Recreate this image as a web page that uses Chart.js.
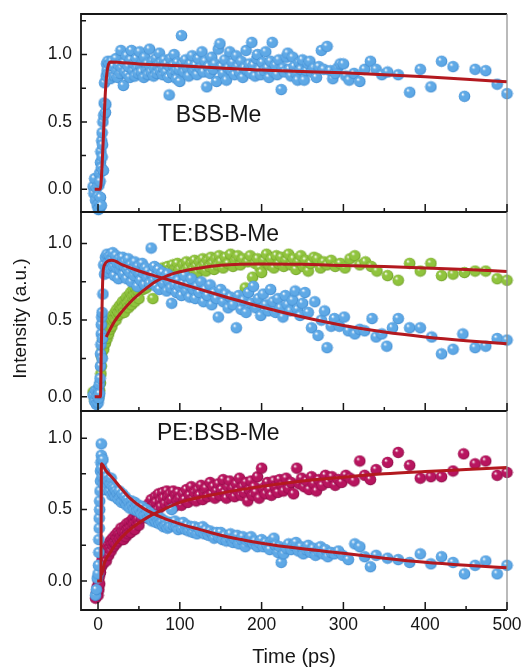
<!DOCTYPE html>
<html lang="en">
<head>
  <meta charset="UTF-8">
  <title>Intensity vs time</title>
  <script src="https://cdn.jsdelivr.net/npm/chart.js"></script>
  <style>
    body {
      margin: 0;
      background: #ffffff;
    }
    .stack {
      position: relative;
      width: 522px;
      height: 669px;
    }
    .stack canvas {
      position: absolute;
      left: 0;
      top: 0;
    }
  </style>
</head>
<body>
  <div class="stack">
    <canvas id="panelBsb" width="522" height="669"></canvas>
    <canvas id="panelTe" width="522" height="669"></canvas>
    <canvas id="panelPe" width="522" height="669"></canvas>
  </div>

  <script>
    // axis ticks
    const timeTicks = [0, 100, 200, 300, 400, 500];
    const timeMinorTicks = [50, 150, 250, 350, 450];
    const intensityTicks = [0, 0.5, 1.0];
    const intensityMinorTicks = [0.25, 0.75, 1.25];

    // BSB-Me, [time ps, intensity]
    const bsbPoints = [
      [-6,0.02],[-5,-0.03],[-4,0.08],[-3,-0.08],[-2,0.01],[-1,-0.12],[0,-0.05],[0.5,-0.15],[1,0.03],[1.5,-0.1],
      [2,-0.14],[2,0.12],[2.5,0.06],[3,-0.06],[3,0.2],[3.5,0.28],[4,-0.12],[4,0.16],[4.5,0.36],[5,0.24],
      [5,0.42],[5.5,0.33],[6,0.5],[6.5,0.14],[7,0.55],[7.5,0.64],[8,0.79],[9,0.57],[9.5,0.63],[10,0.84],
      [10.5,0.93],[11,0.88],[12,0.95],[13,0.86],[14,0.93],[15,0.82],[16,0.9],[17,0.95],[18,0.86],[19,0.91],
      [20,0.84],[22,0.97],[23,0.88],[24,0.83],[25,0.92],[27,0.86],[28,1.03],[29,0.9],[31,0.77],[32,0.94],
      [33,0.87],[35,0.99],[36,0.85],[37,0.91],[39,0.83],[40,0.96],[41,1.03],[43,0.88],[44,0.93],[45,0.84],
      [47,0.97],[48,0.9],[49,0.86],[51,1.02],[52,0.92],[53,0.87],[55,0.95],[56,0.83],[57,0.98],[59,0.89],
      [60,0.93],[61,0.85],[63,1.04],[64,0.91],[65,0.87],[67,0.95],[68,0.84],[69,0.9],[71,0.97],[72,0.86],
      [73,0.92],[75,1.01],[76,0.88],[77,0.94],[79,0.85],[80,0.9],[81,0.96],[83,0.87],[84,0.93],[86,0.83],
      [87,0.7],[88,0.91],[89,0.97],[91,0.86],[92,0.92],[93,1.0],[95,0.88],[96,0.82],[97,0.94],[99,0.89],
      [100,0.8],[102,1.14],[103,0.93],[105,0.87],[107,0.96],[109,0.9],[111,0.84],[113,0.93],[115,0.99],[117,0.88],
      [119,0.92],[121,0.85],[123,0.97],[125,0.9],[127,1.02],[129,0.87],[131,0.95],[133,0.76],[135,0.91],[137,0.86],
      [139,0.98],[141,0.89],[143,0.93],[145,0.8],[147,1.04],[149,1.08],[151,0.91],[153,0.86],[155,0.96],[157,0.81],
      [159,0.9],[161,1.02],[163,0.88],[165,0.94],[167,0.85],[169,0.99],[171,0.91],[173,0.87],[175,0.95],[177,0.83],
      [179,0.9],[181,1.03],[183,0.88],[185,0.93],[187,0.86],[188,1.09],[190,0.92],[192,0.84],[194,0.97],[195,1.0],
      [197,0.89],[199,0.85],[201,0.94],[203,0.88],[205,1.02],[207,0.9],[209,0.83],[211,0.95],[213,1.09],[215,0.87],
      [217,0.92],[219,0.85],[221,0.96],[224,0.74],[226,0.9],[228,0.87],[230,0.98],[232,1.01],[234,0.89],[236,0.84],
      [238,0.98],[240,0.91],[242,0.86],[244,0.81],[246,0.94],[248,0.89],[250,0.96],[252,0.81],[255,0.88],[257,0.93],
      [259,0.95],[261,0.87],[264,0.9],[267,0.83],[270,0.91],[273,1.03],[276,0.89],[280,1.06],[284,0.88],[287,0.82],
      [290,0.86],[293,0.9],[296,0.93],[300,0.93],[303,0.84],[307,0.81],[313,0.86],[320,0.8],[326,0.89],[333,0.95],
      [340,0.89],[347,0.85],[354,0.87],[367,0.85],[381,0.72],[394,0.89],[407,0.76],[420,0.95],[434,0.91],[448,0.69],
      [461,0.89],[474,0.88],[488,0.78],[500,0.71]
    ];
    const bsbFit = [
      [-4,0],[2,0],[3.5,0.03],[5,0.18],[7,0.45],[9,0.72],[11,0.87],[13,0.93],[15,0.945],[50,0.93],
      [100,0.916],[150,0.9],[200,0.884],[250,0.874],[300,0.864],[350,0.85],[400,0.834],[450,0.816],[500,0.797]
    ];

    // TE:BSB-Me, BSB-Me emission (blue)
    const teBsbPoints = [
      [-6,0.01],[-4,-0.03],[-3,0.04],[-2,-0.05],[-1,0.0],[0,-0.04],[0.5,0.05],[1,-0.01],[1.5,0.08],[2,0.02],
      [2.5,0.12],[3,0.2],[3,0.28],[3.5,0.34],[4,0.41],[4,0.47],[4.5,0.52],[5,0.25],[5,0.55],[5.5,0.38],
      [6,0.67],[7,0.86],[8,0.8],[9,0.91],[10,0.84],[11,0.93],[12,0.87],[13,0.81],[14,0.92],[15,0.88],
      [16,0.83],[17,0.9],[18,0.94],[19,0.85],[20,0.79],[21,0.89],[22,0.92],[23,0.84],[24,0.87],[25,0.77],
      [26,0.9],[27,0.83],[28,0.86],[30,0.91],[31,0.8],[32,0.85],[33,0.88],[35,0.77],[36,0.83],[37,0.9],
      [39,0.81],[40,0.86],[41,0.75],[43,0.84],[44,0.79],[45,0.88],[47,0.82],[48,0.72],[49,0.85],[51,0.8],
      [52,0.76],[54,0.87],[55,0.81],[57,0.73],[58,0.84],[60,0.78],[61,0.82],[63,0.74],[65,0.97],[66,0.8],
      [68,0.76],[69,0.85],[71,0.72],[72,0.79],[74,0.83],[75,0.7],[77,0.77],[79,0.81],[80,0.74],[82,0.78],
      [84,0.69],[85,0.8],[87,0.75],[89,0.71],[90,0.61],[92,0.78],[94,0.73],[96,0.68],[98,0.76],[100,0.72],
      [102,0.66],[104,0.74],[106,0.79],[108,0.69],[110,0.73],[112,0.65],[114,0.77],[117,0.7],[119,0.64],[121,0.72],
      [124,0.68],[126,0.75],[129,0.62],[131,0.7],[134,0.66],[137,0.73],[139,0.6],[142,0.68],[145,0.64],[147,0.52],
      [150,0.7],[153,0.62],[156,0.67],[159,0.58],[162,0.65],[165,0.6],[169,0.45],[172,0.66],[175,0.57],[178,0.63],
      [181,0.55],[184,0.68],[187,0.61],[190,0.72],[193,0.58],[196,0.64],[199,0.53],[202,0.67],[205,0.6],[208,0.56],
      [211,0.7],[214,0.62],[217,0.55],[220,0.64],[223,0.58],[226,0.52],[229,0.66],[232,0.6],[235,0.56],[238,0.63],
      [241,0.69],[244,0.57],[247,0.53],[250,0.61],[253,0.68],[257,0.55],[261,0.45],[265,0.62],[269,0.4],[273,0.5],
      [277,0.56],[280,0.32],[285,0.46],[289,0.51],[295,0.46],[301,0.52],[306,0.43],[314,0.41],[320,0.44],[326,0.43],
      [335,0.51],[340,0.39],[347,0.41],[353,0.33],[360,0.45],[367,0.51],[381,0.45],[394,0.45],[408,0.39],[420,0.28],
      [434,0.31],[446,0.41],[461,0.32],[474,0.33],[488,0.38],[500,0.37]
    ];
    const teBsbFit = [
      [-4,0],[3,0],[4,0.3],[5,0.6],[6,0.8],[8,0.86],[12,0.885],[17,0.89],[30,0.86],[50,0.82],
      [75,0.78],[100,0.74],[150,0.66],[200,0.585],[250,0.52],[300,0.465],[350,0.422],[400,0.39],[450,0.365],[500,0.345]
    ];

    // TE:BSB-Me, TE emission (green)
    const teHostPoints = [
      [-6,0.03],[-4,-0.02],[-2,0.02],[-1,-0.01],[0,0.05],[1,0.0],[2,0.04],[3,0.09],[3.5,0.15],[4,0.2],
      [4.5,0.26],[5,0.3],[5.5,0.34],[6,0.37],[7,0.31],[8,0.4],[9,0.35],[10,0.42],[11,0.38],[12,0.45],
      [13,0.41],[14,0.48],[15,0.44],[16,0.5],[17,0.46],[18,0.53],[19,0.49],[20,0.51],[21,0.55],[22,0.5],
      [23,0.57],[24,0.53],[25,0.55],[26,0.59],[27,0.54],[28,0.6],[29,0.57],[30,0.62],[31,0.58],[32,0.55],
      [33,0.63],[34,0.6],[35,0.65],[36,0.61],[37,0.58],[38,0.66],[39,0.63],[40,0.68],[41,0.6],[42,0.65],
      [43,0.7],[44,0.66],[45,0.62],[46,0.71],[47,0.67],[48,0.73],[49,0.69],[50,0.64],[52,0.72],[53,0.75],
      [55,0.7],[56,0.74],[58,0.77],[59,0.71],[61,0.79],[62,0.74],[64,0.76],[65,0.8],[67,0.64],[68,0.77],
      [70,0.81],[71,0.75],[73,0.79],[74,0.83],[76,0.77],[77,0.8],[79,0.84],[80,0.78],[82,0.82],[83,0.76],
      [85,0.85],[86,0.8],[88,0.83],[89,0.78],[91,0.86],[92,0.82],[94,0.79],[95,0.84],[97,0.87],[98,0.81],
      [100,0.83],[102,0.78],[104,0.86],[106,0.82],[108,0.88],[110,0.84],[112,0.8],[114,0.87],[116,0.83],[118,0.89],
      [120,0.85],[122,0.81],[124,0.88],[126,0.84],[128,0.9],[130,0.86],[132,0.82],[134,0.89],[136,0.85],[138,0.91],
      [140,0.87],[142,0.83],[144,0.9],[146,0.86],[148,0.92],[150,0.88],[153,0.84],[156,0.91],[159,0.87],[162,0.93],
      [165,0.85],[168,0.89],[171,0.92],[174,0.86],[177,0.9],[180,0.71],[183,0.88],[186,0.92],[189,0.78],[192,0.87],
      [195,0.9],[198,0.84],[200,0.81],[203,0.89],[206,0.93],[209,0.86],[212,0.9],[215,0.84],[218,0.92],[221,0.87],
      [224,0.91],[227,0.85],[230,0.89],[233,0.93],[236,0.86],[239,0.9],[242,0.83],[245,0.88],[248,0.92],[251,0.85],
      [254,0.89],[257,0.82],[260,0.87],[264,0.91],[268,0.9],[272,0.84],[276,0.88],[280,0.86],[285,0.89],[290,0.85],
      [296,0.87],[302,0.84],[308,0.9],[314,0.92],[320,0.86],[327,0.88],[334,0.85],[341,0.82],[354,0.79],[367,0.76],
      [381,0.87],[394,0.82],[407,0.87],[420,0.79],[434,0.8],[448,0.81],[461,0.82],[474,0.82],[488,0.77],[500,0.76]
    ];
    const teHostFit = [
      [10,0.39],[20,0.49],[30,0.56],[40,0.62],[55,0.69],[70,0.75],[85,0.79],[100,0.815],[125,0.84],[150,0.857],
      [200,0.866],[250,0.864],[300,0.856],[350,0.85],[400,0.84],[450,0.83],[500,0.817]
    ];

    // PE:BSB-Me, BSB-Me emission (blue)
    const peBsbPoints = [
      [-3,-0.1],[-2,-0.06],[-1,0.02],[0,0.05],[0.5,0.11],[1,0.2],[1,0.29],[1.5,0.37],[1.5,0.44],[2,0.5],
      [2,0.56],[2.5,0.63],[3,0.7],[3,0.77],[3.5,0.83],[4,0.88],[4,0.96],[4.5,0.79],[5,0.73],[6,0.85],
      [7,0.68],[8,0.76],[9,0.64],[10,0.71],[11,0.73],[12,0.67],[13,0.7],[14,0.63],[15,0.68],[16,0.72],
      [17,0.6],[18,0.66],[19,0.62],[20,0.65],[21,0.59],[22,0.63],[24,0.61],[25,0.57],[26,0.63],[28,0.59],
      [29,0.55],[30,0.61],[32,0.56],[33,0.59],[35,0.53],[36,0.57],[38,0.55],[39,0.51],[41,0.56],[42,0.53],
      [44,0.5],[45,0.55],[47,0.52],[48,0.49],[50,0.53],[51,0.5],[53,0.47],[54,0.52],[56,0.49],[57,0.46],
      [59,0.5],[60,0.47],[62,0.44],[63,0.48],[65,0.45],[66,0.42],[68,0.46],[69,0.43],[71,0.41],[72,0.45],
      [74,0.42],[75,0.4],[77,0.44],[78,0.41],[80,0.38],[82,0.42],[83,0.39],[85,0.37],[87,0.41],[88,0.38],
      [90,0.5],[92,0.39],[94,0.42],[96,0.38],[98,0.36],[100,0.4],[102,0.37],[104,0.41],[107,0.36],[109,0.39],
      [111,0.35],[114,0.38],[116,0.34],[118,0.38],[121,0.33],[123,0.37],[125,0.35],[128,0.38],[130,0.33],[132,0.36],
      [135,0.32],[137,0.35],[140,0.33],[142,0.3],[145,0.34],[147,0.31],[150,0.34],[152,0.29],[155,0.32],[157,0.28],
      [160,0.31],[162,0.33],[165,0.27],[167,0.3],[170,0.32],[172,0.26],[175,0.29],[177,0.31],[180,0.24],[182,0.28],
      [185,0.29],[187,0.31],[190,0.26],[192,0.28],[195,0.24],[197,0.27],[200,0.29],[202,0.24],[205,0.27],[207,0.25],
      [210,0.22],[212,0.28],[215,0.3],[217,0.25],[220,0.2],[222,0.24],[224,0.13],[227,0.19],[230,0.23],[233,0.26],
      [236,0.22],[239,0.25],[242,0.27],[245,0.21],[248,0.24],[251,0.19],[254,0.22],[257,0.25],[260,0.2],[263,0.23],
      [266,0.18],[269,0.21],[272,0.24],[275,0.19],[278,0.22],[281,0.17],[285,0.2],[289,0.19],[294,0.21],[299,0.18],
      [306,0.15],[314,0.26],[320,0.24],[326,0.17],[333,0.1],[340,0.18],[354,0.16],[367,0.15],[381,0.13],[394,0.19],
      [407,0.12],[420,0.17],[434,0.13],[448,0.05],[461,0.11],[474,0.14],[488,0.05],[500,0.11]
    ];
    const peBsbFit = [
      [-1,0],[3.5,0],[4.2,0.82],[10,0.77],[18,0.72],[28,0.65],[39,0.58],[55,0.51],[80,0.44],[100,0.4],
      [125,0.36],[150,0.32],[175,0.29],[200,0.264],[250,0.225],[300,0.194],[350,0.16],[400,0.131],[450,0.11],[500,0.093]
    ];

    // PE:BSB-Me, PE emission (magenta)
    const peHostPoints = [
      [-3,-0.12],[-2,-0.08],[-1,-0.04],[0,-0.1],[0.5,0.0],[1,-0.06],[1.5,0.03],[2,-0.02],[3,0.06],[4,0.1],
      [5,0.15],[6,0.12],[7,0.19],[8,0.16],[9,0.22],[10,0.14],[11,0.2],[12,0.25],[13,0.18],[14,0.23],
      [15,0.28],[16,0.21],[17,0.26],[18,0.3],[19,0.24],[20,0.27],[21,0.32],[22,0.26],[23,0.3],[24,0.34],
      [25,0.28],[26,0.33],[27,0.3],[28,0.37],[29,0.32],[30,0.35],[31,0.29],[32,0.38],[33,0.34],[34,0.31],
      [35,0.4],[36,0.36],[37,0.33],[38,0.41],[39,0.37],[40,0.34],[41,0.42],[42,0.38],[43,0.44],[44,0.4],
      [45,0.36],[46,0.45],[47,0.41],[48,0.47],[49,0.43],[50,0.39],[52,0.48],[53,0.44],[55,0.5],[56,0.46],
      [58,0.52],[59,0.48],[61,0.44],[62,0.54],[64,0.5],[65,0.57],[67,0.47],[68,0.53],[70,0.59],[71,0.55],
      [73,0.5],[74,0.61],[76,0.56],[77,0.52],[79,0.62],[80,0.58],[82,0.54],[84,0.63],[85,0.59],[87,0.55],
      [88,0.61],[90,0.57],[92,0.63],[93,0.52],[95,0.6],[97,0.56],[98,0.62],[100,0.58],[102,0.53],[104,0.61],
      [106,0.57],[108,0.64],[110,0.55],[112,0.6],[114,0.66],[116,0.58],[118,0.62],[120,0.56],[122,0.64],[124,0.6],
      [126,0.67],[128,0.57],[130,0.62],[132,0.65],[134,0.59],[137,0.69],[139,0.61],[141,0.66],[143,0.58],[145,0.63],
      [147,0.68],[149,0.6],[151,0.64],[153,0.71],[155,0.62],[157,0.58],[159,0.66],[161,0.7],[163,0.61],[165,0.65],
      [167,0.59],[169,0.68],[171,0.63],[173,0.72],[175,0.6],[177,0.66],[179,0.62],[181,0.69],[183,0.56],[185,0.64],
      [187,0.7],[189,0.6],[191,0.66],[193,0.62],[195,0.73],[197,0.58],[200,0.79],[202,0.65],[205,0.61],[207,0.69],
      [210,0.64],[212,0.6],[215,0.7],[217,0.66],[220,0.62],[222,0.71],[225,0.67],[227,0.63],[230,0.72],[233,0.65],
      [236,0.69],[239,0.61],[243,0.79],[246,0.68],[249,0.72],[252,0.66],[255,0.7],[258,0.64],[261,0.73],[264,0.68],
      [267,0.63],[270,0.71],[274,0.67],[278,0.74],[282,0.69],[286,0.73],[290,0.67],[294,0.71],[298,0.69],[303,0.74],
      [308,0.72],[313,0.7],[320,0.84],[326,0.74],[333,0.71],[340,0.78],[354,0.83],[367,0.9],[381,0.81],[394,0.72],
      [407,0.73],[420,0.73],[434,0.77],[447,0.89],[461,0.82],[474,0.84],[488,0.74],[500,0.76]
    ];
    const peHostFit = [
      [4.5,0.04],[8,0.13],[15,0.2],[22,0.26],[35,0.34],[59,0.44],[80,0.5],[100,0.55],[137,0.6],[186,0.65],
      [250,0.7],[300,0.727],[350,0.75],[400,0.766],[450,0.78],[500,0.794]
    ];

    const FONT = '"Liberation Sans", Arial, Helvetica, sans-serif';
    const INK = '#161616';
    const FIT_RED = '#b3191f';
    const CANVAS_H = 669;

    // shaded ball used as the marker
    function ball(base, edge) {
      const r = 5.8;
      const size = 13;
      const c = document.createElement('canvas');
      c.width = size;
      c.height = size;
      const g = c.getContext('2d');
      const cx = size / 2, cy = size / 2;
      const grad = g.createRadialGradient(cx - 2, cy - 2.2, 0.3, cx, cy, r);
      grad.addColorStop(0, '#ffffff');
      grad.addColorStop(0.28, base);
      grad.addColorStop(0.78, base);
      grad.addColorStop(1, edge);
      g.fillStyle = grad;
      g.beginPath();
      g.arc(cx, cy, r, 0, Math.PI * 2);
      g.fill();
      return c;
    }

    const blueBall = ball('#5fa9e6', '#3b88cf');
    const greenBall = ball('#90c43e', '#6b9a22');
    const magentaBall = ball('#b8155f', '#870b43');

    // box, inward ticks, panel caption and the shared intensity title
    const frame = {
      id: 'frame',
      afterDraw(chart, args, opts) {
        const { ctx, chartArea: a, scales: { x, y } } = chart;
        ctx.save();
        ctx.lineCap = 'butt';

        ctx.strokeStyle = INK;
        ctx.lineWidth = 1.8;
        ctx.beginPath();
        ctx.moveTo(a.right, a.top);
        ctx.lineTo(a.left, a.top);
        ctx.lineTo(a.left, a.bottom);
        ctx.lineTo(a.right, a.bottom);
        ctx.stroke();

        ctx.strokeStyle = '#8c8c8c';
        ctx.lineWidth = 1.2;
        ctx.beginPath();
        ctx.moveTo(a.right, a.top);
        ctx.lineTo(a.right, a.bottom);
        ctx.stroke();

        ctx.strokeStyle = INK;
        ctx.lineWidth = 1.5;
        ctx.beginPath();
        const xTick = (v, len) => {
          const px = x.getPixelForValue(v);
          ctx.moveTo(px, a.bottom);
          ctx.lineTo(px, a.bottom - len);
        };
        const yTick = (v, len) => {
          if (v < y.min || v > y.max) return;
          const py = y.getPixelForValue(v);
          ctx.moveTo(a.left, py);
          ctx.lineTo(a.left + len, py);
        };
        timeTicks.forEach(v => xTick(v, 8));
        timeMinorTicks.forEach(v => xTick(v, 4));
        intensityTicks.forEach(v => yTick(v, 6));
        intensityMinorTicks.forEach(v => yTick(v, 5));
        ctx.stroke();

        ctx.fillStyle = INK;
        ctx.font = '23px ' + FONT;
        ctx.textAlign = 'left';
        ctx.textBaseline = 'middle';
        ctx.fillText(opts.caption, x.getPixelForValue(opts.at[0]), y.getPixelForValue(opts.at[1]));

        if (opts.yTitle) {
          // sits a little below the middle panel's centre
          ctx.translate(21, (a.top + a.bottom) / 2 + 7);
          ctx.rotate(-Math.PI / 2);
          ctx.font = '19px ' + FONT;
          ctx.textAlign = 'center';
          ctx.fillText(opts.yTitle, 0, 0);
        }
        ctx.restore();
      }
    };

    function fitLine(points) {
      return {
        data: points.map(([x, y]) => ({ x, y })),
        showLine: true,
        borderColor: FIT_RED,
        borderWidth: 3,
        pointRadius: 0,
        cubicInterpolationMode: 'monotone',
        clip: false,
        order: 0
      };
    }

    function dots(points, marker, order) {
      return {
        data: points.map(([x, y]) => ({ x, y })),
        showLine: false,
        pointStyle: marker,
        pointRadius: 6,
        clip: false,
        order: order
      };
    }

    const panels = [
      {
        id: 'panelBsb', top: 14, bottom: 212, yMin: -0.168, yMax: 1.3,
        caption: 'BSB-Me', at: [95, 0.55],
        datasets: [fitLine(bsbFit), dots(bsbPoints, blueBall, 1)]
      },
      {
        id: 'panelTe', top: 212, bottom: 411, yMin: -0.093, yMax: 1.205,
        caption: 'TE:BSB-Me', at: [73, 1.057], yTitle: 'Intensity (a.u.)',
        datasets: [fitLine(teBsbFit), fitLine(teHostFit), dots(teBsbPoints, blueBall, 1), dots(teHostPoints, greenBall, 2)]
      },
      {
        id: 'panelPe', top: 411, bottom: 610, yMin: -0.203, yMax: 1.19,
        caption: 'PE:BSB-Me', at: [72, 1.03], xTitle: true,
        datasets: [fitLine(peBsbFit), fitLine(peHostFit), dots(peBsbPoints, blueBall, 1), dots(peHostPoints, magentaBall, 2)]
      }
    ];

    panels.forEach(p => {
      const xAxisHeight = p.xTitle ? CANVAS_H - p.bottom : 0;
      new Chart(document.getElementById(p.id), {
        type: 'scatter',
        data: { datasets: p.datasets },
        options: {
          responsive: false,
          animation: false,
          events: [],
          layout: {
            padding: { top: p.top, bottom: CANVAS_H - p.bottom - xAxisHeight, left: 0, right: 15 }
          },
          plugins: {
            legend: { display: false },
            tooltip: { enabled: false },
            frame: { caption: p.caption, at: p.at, yTitle: p.yTitle }
          },
          scales: {
            x: {
              type: 'linear',
              min: -20.8,
              max: 500,
              grid: { display: false, drawTicks: false },
              border: { display: false },
              afterBuildTicks: s => { s.ticks = timeTicks.map(v => ({ value: v })); },
              ticks: {
                display: !!p.xTitle,
                autoSkip: false,
                maxRotation: 0,
                padding: 5,
                color: INK,
                font: { family: FONT, size: 17.5 }
              },
              title: {
                display: !!p.xTitle,
                text: 'Time (ps)',
                color: INK,
                font: { family: FONT, size: 20 },
                padding: { top: 0, bottom: 0 }
              },
              afterFit: s => {
                s.height = xAxisHeight;
                s.paddingLeft = 0;
                s.paddingRight = 0;
              }
            },
            y: {
              type: 'linear',
              min: p.yMin,
              max: p.yMax,
              grid: { display: false, drawTicks: false },
              border: { display: false },
              afterBuildTicks: s => { s.ticks = intensityTicks.map(v => ({ value: v })); },
              ticks: {
                autoSkip: false,
                padding: 9,
                color: INK,
                font: { family: FONT, size: 17.5 },
                callback: v => v.toFixed(1)
              },
              afterFit: s => {
                s.width = 81;
                s.paddingTop = 0;
                s.paddingBottom = 0;
              }
            }
          }
        },
        plugins: [frame]
      });
    });
  </script>
</body>
</html>
